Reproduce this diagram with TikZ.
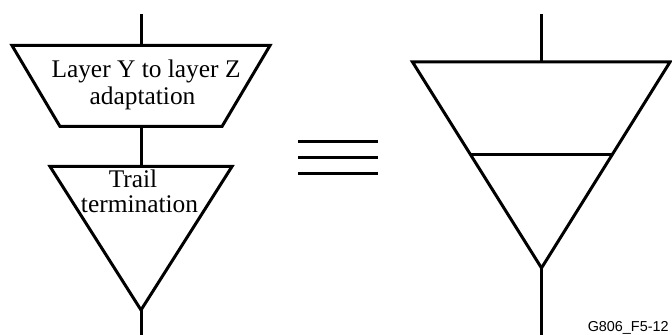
\documentclass[tikz,border=0pt]{standalone}
\usepackage{fontspec}
\setmainfont{Liberation Serif}
\newfontfamily\arialfont{Liberation Sans}
\begin{document}
\begin{tikzpicture}[x=0.5pt,y=-0.5pt,
  ln/.style={line width=1.5pt, line join=miter},
  lbl/.style={font=\fontsize{12.7}{14}\selectfont, inner sep=0pt, anchor=base},
  tag/.style={font=\arialfont\fontsize{7.2}{9}\selectfont, inner sep=0pt, anchor=base east}]
\useasboundingbox (0,0) rectangle (672,335);
% ---- left: adaptation + trail termination
\coordinate (lin) at (141,14);
\coordinate (trapT) at (141,45.5);
\coordinate (trapB) at (141,126.5);
\coordinate (triT) at (141,166.5);
\coordinate (triA) at (141,310);
\coordinate (lout) at (141,335);
\draw[ln] (12,45.5) -- (270,45.5) -- (222,126.5) -- (60,126.5) -- cycle;
\draw[ln] (50,166.5) -- (232,166.5) -- (triA) -- cycle;
\draw[ln] (lin) -- (trapT);
\draw[ln] (trapB) -- (triT);
\draw[ln] (triA) -- (lout);
\node[lbl] (t1) at (146,78) {Layer Y to layer Z};
\node[lbl] (t2) at (142.5,104.5) {adaptation};
\node[lbl] (t3) at (133,188) {Trail};
\node[lbl] (t4) at (139.5,213) {termination};
% ---- equivalence sign
\draw[ln] (298,142) -- (378,142);
\draw[ln] (298,158) -- (378,158);
\draw[ln] (298,174) -- (378,174);
% ---- right: combined symbol
\coordinate (rin) at (541.5,14);
\coordinate (rT) at (541.5,62);
\coordinate (rA) at (541.5,268);
\coordinate (rout) at (541.5,335);
\draw[ln] (412.5,62) -- (670,62) -- (rA) -- cycle;
\draw[ln] (471,155) -- (612,155);
\draw[ln] (rin) -- (rT);
\draw[ln] (rA) -- (rout);
\node[tag] (id) at (669,331) {G806\_F5-12};
\end{tikzpicture}
\end{document}
